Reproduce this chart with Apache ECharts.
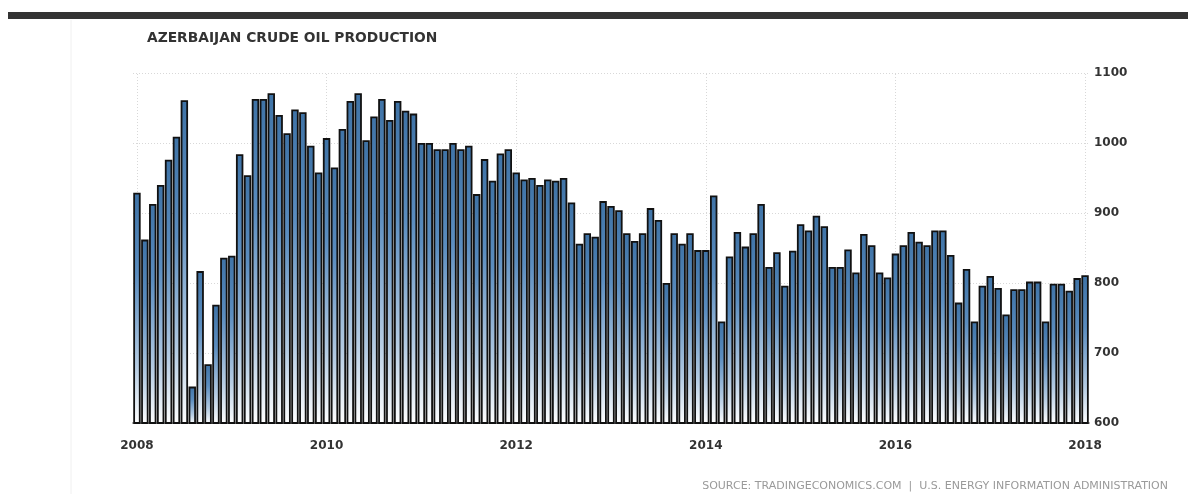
<!DOCTYPE html>
<html><head><meta charset="utf-8">
<script src="https://cdn.jsdelivr.net/npm/echarts@6/dist/echarts.min.js"></script>
<style>html,body{margin:0;padding:0;background:#fff}#c{width:1188px;height:494px}</style>
</head><body><div id="c"></div><script>
// Monthly categories Jan 2008 .. Jan 2018
const months = [];
for (let y = 2008; y <= 2018; y++) {
  for (let m = 1; m <= 12; m++) {
    if (y === 2018 && m > 1) break;
    months.push(y + '-' + (m < 10 ? '0' + m : m));
  }
}
const yearTicks = ['2008-01', '2010-01', '2012-01', '2014-01', '2016-01', '2018-01'];
// Crude oil production, thousand barrels per day
const production = [
  929, 862, 913, 940, 976, 1009, 1061, 652, 817, 684, 769, 836,
  839, 984, 954, 1063, 1063, 1071, 1040, 1014, 1048, 1044, 996, 958,
  1007, 965, 1020, 1060, 1071, 1004, 1038, 1063, 1033, 1060, 1046, 1042,
  1000, 1000, 991, 991, 1000, 991, 996, 927, 977, 946, 985, 991,
  958, 948, 950, 940, 948, 946, 950, 915, 856, 871, 866, 917,
  910, 904, 871, 860, 871, 907, 890, 800, 871, 856, 871, 847,
  847, 925, 745, 838, 873, 852, 871, 913, 823, 844, 796, 846,
  884, 875, 896, 881, 823, 823, 848, 815, 870, 854, 815, 808,
  842, 854, 873, 859, 854, 875, 875, 840, 772, 820, 745, 796,
  810, 793, 755, 791, 791, 802, 802, 745, 799, 799, 789, 807,
  811
];
const yTicks = [600, 700, 800, 900, 1000, 1100];

const chart = echarts.init(document.getElementById('c'), null, {renderer: 'canvas'});
chart.setOption({
  animation: false,
  backgroundColor: '#ffffff',
  graphic: [
    {type: 'rect', shape: {x: 8, y: 12, width: 1180, height: 7}, style: {fill: '#333333'}},
    {type: 'line', shape: {x1: 71, y1: 20, x2: 71, y2: 494}, style: {stroke: '#f0f0f0', lineWidth: 1}},
    {type: 'text', left: 147, top: 31, style: {text: 'AZERBAIJAN CRUDE OIL PRODUCTION', font: 'bold 13.8px "DejaVu Sans"', fill: '#333333'}},
    {type: 'text', right: 20, top: 481, style: {text: 'SOURCE: TRADINGECONOMICS.COM  |  U.S. ENERGY INFORMATION ADMINISTRATION', font: '11px "DejaVu Sans"', fill: '#9a9a9a'}}
  ],
  grid: {left: 133, right: 99, top: 73, bottom: 71, containLabel: false},
  xAxis: {
    type: 'category',
    data: months,
    boundaryGap: true,
    axisLine: {show: true, lineStyle: {color: '#9a9a9a', width: 2}},
    axisTick: {show: false},
    splitLine: {show: false},
    axisLabel: {
      interval: (i) => i % 24 === 0,
      formatter: (v) => v.slice(0, 4),
      color: '#333333', fontSize: 12, fontWeight: 'bold', fontFamily: 'DejaVu Sans', margin: 17
    }
  },
  yAxis: {
    type: 'value', position: 'right', min: 600, max: 1100, interval: 100,
    axisLine: {show: false}, axisTick: {show: false},
    splitLine: {show: true, lineStyle: {color: '#d8d8d8', type: [1, 2], width: 1}},
    axisLabel: {color: '#333333', fontSize: 12, fontWeight: 'bold', fontFamily: 'DejaVu Sans', margin: 5,
      formatter: (v) => yTicks.indexOf(v) >= 0 ? String(v) : ''}
  },
  series: [{
    type: 'bar',
    data: production,
    barCategoryGap: '6%',
    itemStyle: {
      borderColor: '#111111', borderWidth: 1.8,
      color: new echarts.graphic.LinearGradient(0, 0, 0, 1, [
        {offset: 0, color: '#3f73a6'},
        {offset: 0.35, color: '#5b8dbf'},
        {offset: 0.75, color: '#b5cce3'},
        {offset: 1, color: '#ffffff'}
      ])
    },
    markLine: {
      silent: true, symbol: 'none', label: {show: false}, z: 0,
      lineStyle: {color: '#d8d8d8', type: [1, 2], width: 1},
      data: yearTicks.map(t => ({xAxis: t}))
    }
  }]
});
</script></body></html>
